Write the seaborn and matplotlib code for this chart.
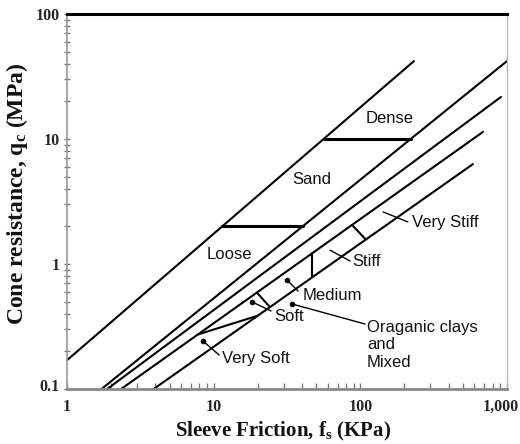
import numpy as np
import pandas as pd
import matplotlib
matplotlib.use("Agg")
import matplotlib.pyplot as plt
import matplotlib.transforms as mtransforms
import seaborn as sns
from matplotlib.ticker import FixedLocator, LogLocator, NullFormatter

# Soil behaviour boundaries: end points (sleeve friction kPa, cone resistance MPa)
boundary_names = ["sand_upper", "sand_lower", "clay_upper", "clay_mid", "clay_lower"]
boundary_fs_start = [1.0, 1.72, 1.88, 2.34, 3.9]
boundary_qc_start = [0.17, 0.1, 0.1, 0.1, 0.1]
boundary_fs_end = [232, 1000, 910, 686, 586]
boundary_qc_end = [42, 42, 21.7, 11.4, 6.3]

# Sand density limits (cone resistance, MPa) between the two sand boundaries
sand_density_qc = [2.0, 10.0]

# Clay consistency limits: sleeve friction where each bar meets clay_mid / clay_lower
consistency_fs_mid = [19.7, 46.8, 87.8]
consistency_fs_low = [24.2, 46.8, 109.0]

# Organic clay limit: from clay_mid to clay_lower
organic_fs_mid = 7.8
organic_fs_low = 20.0

# Zone names written on the chart
zone_texts = ["Loose", "Sand", "Dense"]
zone_fs = [12.7, 46.8, 159]
zone_qc = [1.2, 4.7, 14.7]

# Consistency labels with leader lines
leader_texts = ["Very Soft", "Soft", "Medium", "Stiff", "Very Stiff", "Oraganic clays\nand\nMixed"]
leader_fs0 = [8.46, 18.3, 31.6, 62.1, 143, 34.2]
leader_qc0 = [0.242, 0.497, 0.745, 1.29, 2.61, 0.479]
leader_fs1 = [10.9, 24.6, 37.6, 85.1, 211, 107.6]
leader_qc1 = [0.187, 0.421, 0.608, 1.057, 2.17, 0.331]
leader_dot = [True, True, True, False, False, True]
leader_text_fs = [11.4, 25.8, 40.6, 87.8, 225, 111]
leader_text_qc = [0.174, 0.377, 0.555, 1.04, 2.13, 0.225]

x_tick_values = [1, 10, 100, 1000]
x_tick_labels = ["1", "10", "100", "1,000"]
y_tick_values = [0.1, 1, 10, 100]
y_tick_labels = ["0.1", "1", "10", "100"]

sns.set_theme(style="white")
plt.rcParams["font.family"] = ["Liberation Sans", "DejaVu Sans"]
plt.rcParams["mathtext.fontset"] = "custom"
plt.rcParams["mathtext.rm"] = "Liberation Serif:bold"
plt.rcParams["mathtext.it"] = "Liberation Serif:bold"
plt.rcParams["mathtext.bf"] = "Liberation Serif:bold"

fig = plt.figure(figsize=(5.2, 4.44), dpi=100)
ax = fig.add_axes([67 / 520, 1 - 389 / 444, 440 / 520, 375 / 444])
ax.set_xscale("log")
ax.set_yscale("log")


def qc_on(name, fs):
    i = boundary_names.index(name)
    lx0, lx1 = np.log10(boundary_fs_start[i]), np.log10(boundary_fs_end[i])
    ly0, ly1 = np.log10(boundary_qc_start[i]), np.log10(boundary_qc_end[i])
    return 10 ** (ly0 + (np.log10(fs) - lx0) * (ly1 - ly0) / (lx1 - lx0))


def fs_on(name, qc):
    i = boundary_names.index(name)
    lx0, lx1 = np.log10(boundary_fs_start[i]), np.log10(boundary_fs_end[i])
    ly0, ly1 = np.log10(boundary_qc_start[i]), np.log10(boundary_qc_end[i])
    return 10 ** (lx0 + (np.log10(qc) - ly0) * (lx1 - lx0) / (ly1 - ly0))


# main boundaries
rows = []
for n, f0, q0, f1, q1 in zip(boundary_names, boundary_fs_start, boundary_qc_start,
                             boundary_fs_end, boundary_qc_end):
    rows.append({"seg": n, "fs": f0, "qc": q0})
    rows.append({"seg": n, "fs": f1, "qc": q1})
lines_df = pd.DataFrame(rows)
sns.lineplot(data=lines_df, x="fs", y="qc", units="seg", estimator=None, sort=False,
             color="black", lw=1.5, legend=False, ax=ax)

# sand density bars
rows = []
for k, q in enumerate(sand_density_qc):
    rows.append({"seg": f"d{k}", "fs": fs_on("sand_upper", q), "qc": q})
    rows.append({"seg": f"d{k}", "fs": fs_on("sand_lower", q), "qc": q})
sns.lineplot(data=pd.DataFrame(rows), x="fs", y="qc", units="seg", estimator=None,
             sort=False, color="black", lw=2.2, legend=False, ax=ax)

# clay consistency bars and organic clay limit
rows = []
for k, (fm, fl) in enumerate(zip(consistency_fs_mid, consistency_fs_low)):
    rows.append({"seg": f"c{k}", "fs": fm, "qc": qc_on("clay_mid", fm)})
    rows.append({"seg": f"c{k}", "fs": fl, "qc": qc_on("clay_lower", fl)})
rows.append({"seg": "org", "fs": organic_fs_mid, "qc": qc_on("clay_mid", organic_fs_mid)})
rows.append({"seg": "org", "fs": organic_fs_low, "qc": qc_on("clay_lower", organic_fs_low)})
sns.lineplot(data=pd.DataFrame(rows), x="fs", y="qc", units="seg", estimator=None,
             sort=False, color="black", lw=1.5, legend=False, ax=ax)

# leader lines
for f0, q0, f1, q1, dot in zip(leader_fs0, leader_qc0, leader_fs1, leader_qc1, leader_dot):
    ax.plot([f0, f1], [q0, q1], color="black", lw=1.0)
    if dot:
        ax.plot([f0], [q0], "o", color="black", ms=3)

for t, f, q in zip(zone_texts, zone_fs, zone_qc):
    ax.text(f, q, t, ha="center", va="center", fontsize=12, color="#111")
for t, f, q in zip(leader_texts, leader_text_fs, leader_text_qc):
    ax.text(f, q, t, ha="left", va="center", fontsize=12, color="#111", linespacing=1.2)

ax.set_xlim(1, 1000)
ax.set_ylim(0.1, 100)
ax.xaxis.set_major_locator(FixedLocator(x_tick_values))
ax.yaxis.set_major_locator(FixedLocator(y_tick_values))
ax.set_xticklabels(x_tick_labels)
ax.set_yticklabels(y_tick_labels)
for axis in (ax.xaxis, ax.yaxis):
    axis.set_minor_locator(LogLocator(base=10, subs=np.arange(2, 10)))
    axis.set_minor_formatter(NullFormatter())
ax.tick_params(axis="x", which="both", direction="in", bottom=True, color="#777",
               length=4, width=1, pad=7, labelsize=11.5)
ax.tick_params(axis="y", which="both", direction="inout", left=True, color="#777",
               length=5, width=1, pad=3, labelsize=11.5)
for lab in ax.get_xticklabels() + ax.get_yticklabels():
    lab.set_fontfamily(["Liberation Serif"])
    lab.set_fontweight("bold")
# keep the last friction label inside the figure
last = ax.get_xticklabels()[-1]
last.set_ha("right")
last.set_transform(last.get_transform() + mtransforms.ScaledTranslation(12 / 100, 0, fig.dpi_scale_trans))
# first resistance label sits a little above its tick
first = ax.get_yticklabels()[0]
first.set_transform(first.get_transform() + mtransforms.ScaledTranslation(0, 4 / 100, fig.dpi_scale_trans))

ax.spines["top"].set_color("black")
ax.spines["top"].set_linewidth(2.2)
ax.spines["right"].set_color("#bbbbbb")
ax.spines["right"].set_linewidth(1.0)
ax.spines["left"].set_color("#999999")
ax.spines["left"].set_linewidth(1.2)
ax.spines["bottom"].set_color("#888888")
ax.spines["bottom"].set_linewidth(2.0)

ax.set_xlabel(r"Sleeve Friction, f$_\mathrm{s}$ (KPa)", fontsize=15,
              fontfamily=["Liberation Serif"], fontweight="bold", color="#111")
ax.set_ylabel(r"Cone resistance, q$_\mathrm{c}$ (MPa)", fontsize=17,
              fontfamily=["Liberation Serif"], fontweight="bold", color="#111")
ax.xaxis.set_label_coords(0.49, -0.082)
ax.yaxis.set_label_coords(-0.083, 0.52)

fig.savefig("out.png", dpi=100)
